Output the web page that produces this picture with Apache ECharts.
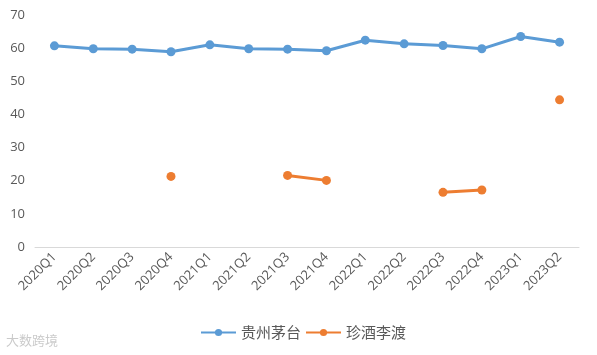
<!DOCTYPE html>
<html><head><meta charset="utf-8">
<script src="https://cdn.jsdelivr.net/npm/echarts@6/dist/echarts.min.js"></script>
<style>html,body{margin:0;padding:0;background:#fff}#c{width:597px;height:355px}</style>
</head><body><div id="c"></div>
<script>
const categories = ['2020Q1','2020Q2','2020Q3','2020Q4','2021Q1','2021Q2','2021Q3','2021Q4','2022Q1','2022Q2','2022Q3','2022Q4','2023Q1','2023Q2'];
const moutai = [60.7, 59.8, 59.7, 58.9, 61.0, 59.8, 59.7, 59.2, 62.4, 61.3, 60.8, 59.8, 63.5, 61.8];
const zhenjiu = [null, null, null, 21.3, null, null, 21.6, 20.1, null, null, 16.5, 17.2, null, 44.4];
const yTicks = [0, 10, 20, 30, 40, 50, 60, 70];
const names = ['贵州茅台', '珍酒李渡'];

const chart = echarts.init(document.getElementById('c'));
chart.setOption({
  animation: false,
  backgroundColor: '#fff',
  grid: { left: 35, right: 18, top: 15, bottom: 108, containLabel: false },
  legend: {
    top: 320, left: 195, itemWidth: 35, itemHeight: 9, itemGap: 4,
    textStyle: { fontSize: 15, color: '#595959', fontFamily: 'Noto Sans CJK SC' },
    data: names
  },
  xAxis: {
    type: 'category', data: categories, boundaryGap: true,
    axisLine: { lineStyle: { color: '#d9d9d9', width: 1 } },
    axisTick: { show: false },
    axisLabel: { rotate: 45, fontSize: 13, color: '#595959', margin: 8, interval: 0, fontFamily: 'Open Sans' }
  },
  yAxis: {
    type: 'value', min: yTicks[0], max: yTicks[yTicks.length - 1], interval: 10,
    axisLine: { show: false }, axisTick: { show: false },
    splitLine: { show: false },
    axisLabel: { fontSize: 13, color: '#595959', margin: 10, fontFamily: 'Open Sans' }
  },
  series: [
    { name: names[0], type: 'line', data: moutai, symbol: 'circle', symbolSize: 9,
      itemStyle: { color: '#5B9BD5' }, lineStyle: { width: 3, color: '#5B9BD5' } },
    { name: names[1], type: 'line', data: zhenjiu, symbol: 'circle', symbolSize: 9, connectNulls: false,
      itemStyle: { color: '#ED7D31' }, lineStyle: { width: 3, color: '#ED7D31' } }
  ],
  graphic: [{ type: 'text', left: 6, bottom: 8,
    style: { text: '大数跨境', fontSize: 13, fill: 'rgba(150,150,150,0.5)', fontFamily: 'Noto Sans CJK SC' } }]
});
</script></body></html>
